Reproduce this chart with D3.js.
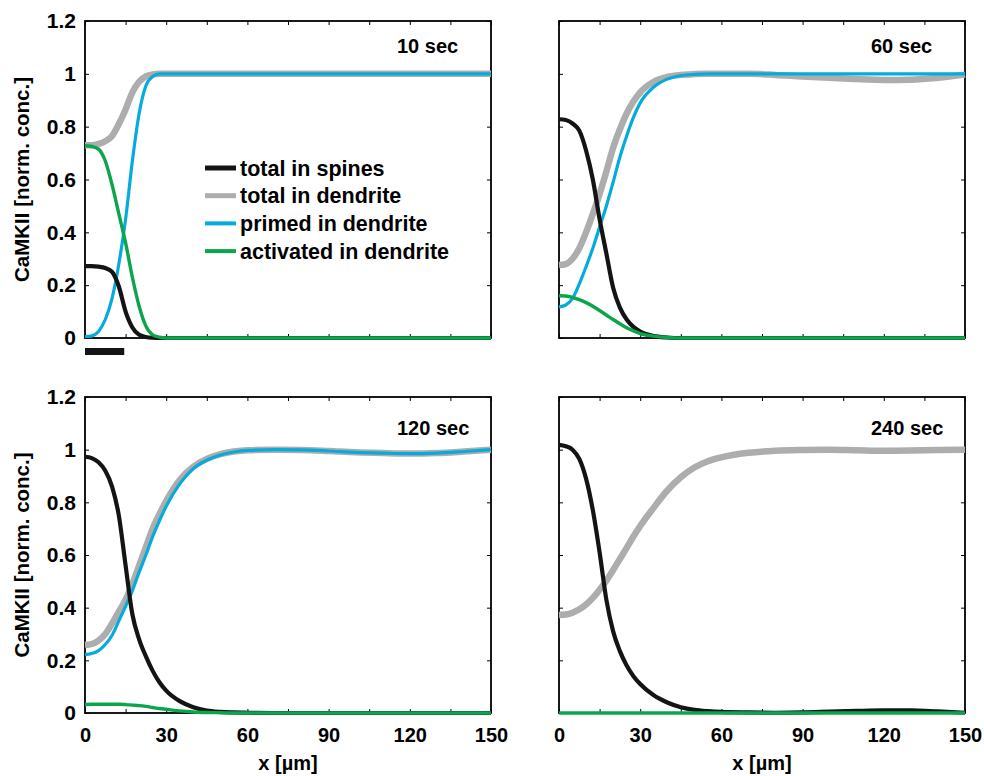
<!DOCTYPE html>
<html>
<head>
<meta charset="utf-8">
<script src="https://cdn.jsdelivr.net/npm/d3@7/dist/d3.min.js"></script>
<style>
    body { margin: 0; background: #fff; }
    #chart text { font-family: "Liberation Sans", Arial, sans-serif; font-weight: bold; fill: #000; }
</style>
</head>
<body>
<div id="chart"></div>
<script>
//Datos
const X_UM = [0, 2.5, 5, 7.5, 10, 12.5, 15, 17.5, 20, 22.5, 25, 27.5, 30, 35, 40, 45, 50, 55, 60, 70, 80, 90, 100, 110, 120, 130, 140, 150];
const PANEL_LABELS = ['10 sec', '60 sec', '120 sec', '240 sec'];
const SERIES_LABELS = ['total in spines', 'total in dendrite', 'primed in dendrite', 'activated in dendrite'];
const X_TICKS = [0, 15, 30, 45, 60, 75, 90, 105, 120, 135, 150];
const X_TICK_LABELS = [0, 30, 60, 90, 120, 150];
const Y_TICKS = [0, 0.2, 0.4, 0.6, 0.8, 1, 1.2];
const STIM_UM = [0, 14.5];

//10 sec
const SPINES_10 = [0.272, 0.272, 0.27, 0.265, 0.25, 0.195, 0.1, 0.04, 0.012, 0.004, 0.001, 0, 0, 0, 0, 0, 0, 0, 0, 0, 0, 0, 0, 0, 0, 0, 0, 0];
const DENDRITE_10 = [0.73, 0.73, 0.735, 0.745, 0.765, 0.81, 0.865, 0.93, 0.97, 0.99, 0.998, 1, 1, 1, 1, 1, 1, 1, 1, 1, 1, 1, 1, 1, 1, 1, 1, 1];
const PRIMED_10 = [0.005, 0.008, 0.025, 0.07, 0.15, 0.28, 0.45, 0.67, 0.85, 0.955, 0.99, 1, 1, 1, 1, 1, 1, 1, 1, 1, 1, 1, 1, 1, 1, 1, 1, 1];
const ACTIVATED_10 = [0.728, 0.725, 0.715, 0.67, 0.58, 0.47, 0.36, 0.23, 0.12, 0.045, 0.012, 0.003, 0, 0, 0, 0, 0, 0, 0, 0, 0, 0, 0, 0, 0, 0, 0, 0];

//60 sec
const SPINES_60 = [0.828, 0.825, 0.812, 0.785, 0.71, 0.6, 0.45, 0.32, 0.19, 0.115, 0.07, 0.042, 0.024, 0.007, 0.002, 0, 0, 0, 0, 0, 0, 0, 0, 0, 0, 0, 0, 0];
const DENDRITE_60 = [0.276, 0.28, 0.3, 0.34, 0.4, 0.47, 0.545, 0.63, 0.72, 0.79, 0.85, 0.895, 0.93, 0.97, 0.988, 0.996, 0.999, 1, 1, 1, 0.996, 0.99, 0.985, 0.98, 0.977, 0.978, 0.985, 0.997];
const PRIMED_60 = [0.118, 0.125, 0.15, 0.205, 0.27, 0.34, 0.42, 0.5, 0.59, 0.685, 0.765, 0.835, 0.89, 0.95, 0.98, 0.993, 0.998, 1, 1, 1, 1, 1, 1, 1, 1, 1, 1, 1];
const ACTIVATED_60 = [0.16, 0.159, 0.154, 0.145, 0.134, 0.12, 0.104, 0.087, 0.07, 0.054, 0.039, 0.027, 0.017, 0.007, 0.002, 0, 0, 0, 0, 0, 0, 0, 0, 0, 0, 0, 0, 0];

//120 sec
const SPINES_120 = [0.973, 0.968, 0.952, 0.92, 0.86, 0.75, 0.56, 0.375, 0.28, 0.215, 0.16, 0.117, 0.085, 0.045, 0.022, 0.009, 0.004, 0.002, 0.001, 0, 0, 0, 0, 0, 0, 0, 0, 0];
const DENDRITE_120 = [0.258, 0.262, 0.275, 0.3, 0.34, 0.385, 0.43, 0.49, 0.56, 0.63, 0.7, 0.755, 0.805, 0.885, 0.935, 0.965, 0.983, 0.993, 0.998, 1, 0.999, 0.995, 0.99, 0.987, 0.985, 0.987, 0.993, 1];
const PRIMED_120 = [0.222, 0.226, 0.237, 0.26, 0.295, 0.35, 0.405, 0.465, 0.535, 0.6, 0.67, 0.73, 0.785, 0.87, 0.928, 0.96, 0.98, 0.991, 0.997, 1, 0.999, 0.995, 0.99, 0.987, 0.985, 0.987, 0.993, 1];
const ACTIVATED_120 = [0.032, 0.033, 0.033, 0.033, 0.033, 0.033, 0.032, 0.03, 0.028, 0.025, 0.021, 0.017, 0.014, 0.008, 0.004, 0.002, 0.001, 0, 0, 0, 0, 0, 0, 0, 0, 0, 0, 0];

//240 sec
const SPINES_240 = [1.018, 1.013, 1, 0.965, 0.89, 0.77, 0.61, 0.43, 0.31, 0.235, 0.18, 0.14, 0.11, 0.067, 0.04, 0.022, 0.012, 0.007, 0.004, 0.002, 0.001, 0.002, 0.005, 0.008, 0.01, 0.01, 0.006, 0.001];
const DENDRITE_240 = [0.372, 0.374, 0.381, 0.394, 0.412, 0.437, 0.468, 0.503, 0.543, 0.585, 0.627, 0.67, 0.71, 0.78, 0.845, 0.895, 0.932, 0.956, 0.971, 0.988, 0.996, 0.999, 1, 0.998, 0.996, 0.997, 0.999, 1];
const ACTIVATED_240 = [0, 0, 0, 0, 0, 0, 0, 0, 0, 0, 0, 0, 0, 0, 0, 0, 0, 0, 0, 0, 0, 0, 0, 0, 0, 0, 0, 0];

//Colores fijos
const COLOR_SPINES = '#141414';
const COLOR_DENDRITE = '#adadad';
const COLOR_PRIMED = '#05abdc';
const COLOR_ACTIVATED = '#0ba64c';

const FONT_SIZE = 20;

let panels = [
    { label: PANEL_LABELS[0], left: 85, top: 21, height: 317, labelY: 32, xLabels: false, yLabels: true, legend: true, stim: true,
      spines: SPINES_10, dendrite: DENDRITE_10, primed: PRIMED_10, activated: ACTIVATED_10 },
    { label: PANEL_LABELS[1], left: 559, top: 21, height: 317, labelY: 32, xLabels: false, yLabels: false,
      spines: SPINES_60, dendrite: DENDRITE_60, primed: PRIMED_60, activated: ACTIVATED_60 },
    { label: PANEL_LABELS[2], left: 85, top: 397, height: 316, labelY: 38, xLabels: true, yLabels: true,
      spines: SPINES_120, dendrite: DENDRITE_120, primed: PRIMED_120, activated: ACTIVATED_120 },
    { label: PANEL_LABELS[3], left: 559, top: 397, height: 316, labelY: 38, xLabels: true, yLabels: false,
      spines: SPINES_240, dendrite: DENDRITE_240, primed: null, activated: ACTIVATED_240 }
];

let width = 406;

let svg = d3.select('#chart')
    .append('svg')
    .attr('width', 984)
    .attr('height', 776)
    .style('display', 'block');

svg.append('rect').attr('width', 984).attr('height', 776).attr('fill', '#fff');

panels.forEach(function(p) {
    let g = svg.append('g')
        .attr('transform', 'translate(' + p.left + ',' + p.top + ')');

    let x = d3.scaleLinear().domain([0, 150]).range([0, width]);
    let y = d3.scaleLinear().domain([0, 1.2]).range([p.height, 0]);

    //Marco
    g.append('rect')
        .attr('width', width)
        .attr('height', p.height)
        .attr('fill', 'none')
        .attr('stroke', '#000')
        .attr('stroke-width', 1.8);

    //Ejes
    let xBottom = d3.axisBottom(x)
        .tickValues(X_TICKS)
        .tickSize(-4)
        .tickPadding(15)
        .tickFormat(function(d) { return p.xLabels && X_TICK_LABELS.indexOf(d) > -1 ? d : ''; });

    let yLeft = d3.axisLeft(y)
        .tickValues(Y_TICKS)
        .tickSize(-4)
        .tickPadding(9)
        .tickFormat(function(d) { return p.yLabels ? d : ''; });

    g.append('g').attr('class', 'x-axis').attr('transform', 'translate(0,' + p.height + ')').call(xBottom);
    g.append('g').call(d3.axisTop(x).tickValues(X_TICKS).tickSize(-4).tickFormat(''));
    g.append('g').attr('class', 'y-axis').call(yLeft);
    g.append('g').attr('transform', 'translate(' + width + ',0)').call(d3.axisRight(y).tickValues(Y_TICKS).tickSize(-4).tickFormat(''));

    g.selectAll('.domain').remove();
    g.selectAll('.tick line').attr('stroke', '#000').attr('stroke-width', 1);
    g.selectAll('.tick text')
        .attr('font-size', FONT_SIZE)
        .style('font-family', '"Liberation Sans", Arial, sans-serif')
        .style('font-weight', 'bold');
    g.selectAll('.y-axis .tick text').attr('font-size', 21);

    //Líneas
    let line = d3.line()
        .x(function(d, i) { return x(X_UM[i]); })
        .y(function(d) { return y(d); })
        .curve(d3.curveMonotoneX);

    let series = [
        { values: p.dendrite, color: COLOR_DENDRITE, w: 6.5 },
        { values: p.primed, color: COLOR_PRIMED, w: 3.2 },
        { values: p.spines, color: COLOR_SPINES, w: 4.2 },
        { values: p.activated, color: COLOR_ACTIVATED, w: 3.4 }
    ];

    series.forEach(function(s) {
        if (!s.values) return;
        g.append('path')
            .datum(s.values)
            .attr('d', line)
            .attr('fill', 'none')
            .attr('stroke', s.color)
            .attr('stroke-width', s.w);
    });

    //Etiqueta del panel
    g.append('text')
        .attr('x', 312)
        .attr('y', p.labelY)
        .attr('font-size', FONT_SIZE)
        .text(p.label);

    //Títulos de ejes
    if (p.yLabels) {
        g.append('text')
            .attr('transform', 'translate(' + (29 - p.left) + ',' + (p.height / 2) + ') rotate(-90)')
            .attr('text-anchor', 'middle')
            .attr('font-size', 20.5)
            .text('CaMKII [norm. conc.]');
    }
    if (p.xLabels) {
        g.append('text')
            .attr('x', width / 2)
            .attr('y', p.height + 57)
            .attr('text-anchor', 'middle')
            .attr('font-size', FONT_SIZE)
            .text('x [\u00b5m]');
    }

    //Barra de estímulo
    if (p.stim) {
        g.append('rect')
            .attr('x', x(STIM_UM[0]))
            .attr('y', p.height + 10)
            .attr('width', x(STIM_UM[1]) - x(STIM_UM[0]))
            .attr('height', 7)
            .attr('fill', COLOR_SPINES);
    }

    //Leyenda
    if (p.legend) {
        let legendColors = [COLOR_SPINES, COLOR_DENDRITE, COLOR_PRIMED, COLOR_ACTIVATED];
        let legendWidths = [5, 5, 4, 4];
        let legend = g.append('g').attr('transform', 'translate(120,147)');
        SERIES_LABELS.forEach(function(name, i) {
            legend.append('line')
                .attr('x1', 0).attr('x2', 31)
                .attr('y1', i * 27.7).attr('y2', i * 27.7)
                .attr('stroke', legendColors[i])
                .attr('stroke-width', legendWidths[i]);
            legend.append('text')
                .attr('x', 35)
                .attr('y', i * 27.7 + 7.5)
                .attr('font-size', 21.5)
                .text(name);
        });
    }
});
</script>
</body>
</html>
